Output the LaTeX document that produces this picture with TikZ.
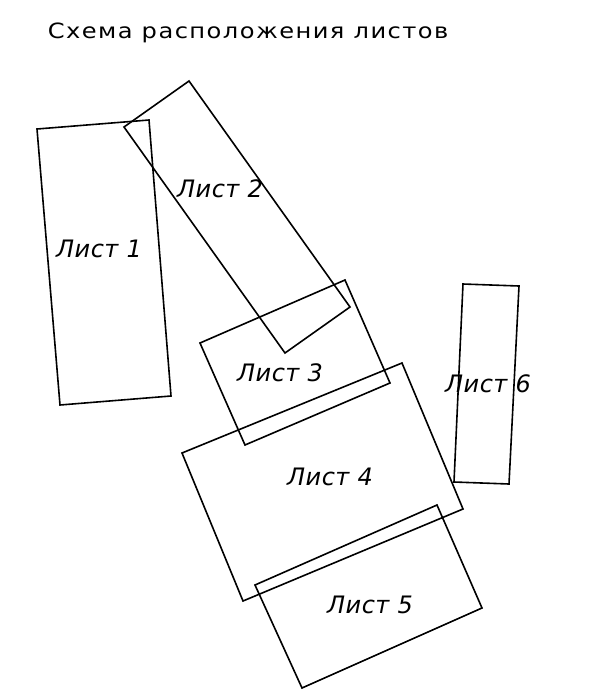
\documentclass[tikz,border=0pt]{standalone}
\usepackage{fontspec}
\setmainfont{DejaVu Sans}
\newfontfamily\titlefont[LetterSpace=6]{DejaVu Sans}
\newfontfamily\labelfont[LetterSpace=2]{DejaVu Sans Oblique}

\begin{document}
\begin{tikzpicture}[x=1pt,y=-1pt,line width=1.6pt,line join=miter,
    sheet/.style={draw,black},
    sheetlabel/.style={inner sep=0pt,font=\labelfont\fontsize{24}{24}\selectfont}]
   \useasboundingbox (0,0) rectangle (596,697);
   \node (title) at (47,38) [anchor=base west,inner sep=0pt,font=\titlefont\fontsize{21}{21}\selectfont] {\scalebox{1.15}[1]{Схема расположения листов}};
   % sheets
   \draw[sheet] (37,129) -- (149,120) -- (171,396) -- (60,405) -- cycle;
   \draw[sheet] (189,81) -- (350,307) -- (285,353) -- (124,127) -- cycle;
   \draw[sheet] (200,343) -- (345,280) -- (390,383) -- (245,445) -- cycle;
   \draw[sheet] (182,453) -- (402,363) -- (463,509) -- (243,601) -- cycle;
   \draw[sheet] (255,585) -- (437,505) -- (482,608) -- (302,688) -- cycle;
   \draw[sheet] (463,284) -- (519,286) -- (509,484) -- (454,482) -- cycle;
   % labels
   \node (list1) at (99,249) [sheetlabel] {Лист 1};
   \node (list2) at (220,189) [sheetlabel] {Лист 2};
   \node (list3) at (280,373) [sheetlabel] {Лист 3};
   \node (list4) at (330,477) [sheetlabel] {Лист 4};
   \node (list5) at (370,605) [sheetlabel] {Лист 5};
   \node (list6) at (488,384) [sheetlabel] {Лист 6};
\end{tikzpicture}
\end{document}
